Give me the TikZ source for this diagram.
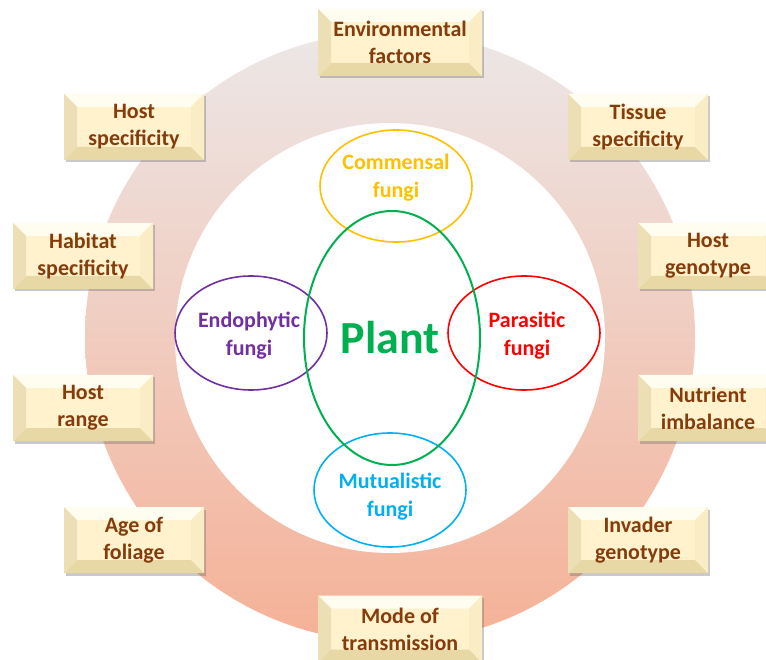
\documentclass[tikz,border=0pt]{standalone}
\usepackage{fontspec}
\setmainfont{Carlito}
\usetikzlibrary{shapes.geometric,shadows,calc}
\definecolor{txtbrown}{HTML}{843C0C}
\definecolor{boxfill}{HTML}{FFF2CC}
\definecolor{bevtop}{HTML}{FFFCF0}
\definecolor{bevleft}{HTML}{ECDFB6}
\definecolor{bevbottom}{HTML}{E8D8A6}
\definecolor{bevright}{HTML}{FAEDC6}
\definecolor{ringtop}{HTML}{ECE7E7}
\definecolor{ringbottom}{HTML}{F5B197}
\definecolor{commensal}{HTML}{FFC000}
\definecolor{plantgreen}{HTML}{00B050}
\definecolor{endophytic}{HTML}{7030A0}
\definecolor{parasitic}{HTML}{FF0000}
\definecolor{mutualistic}{HTML}{00B0F0}
\begin{document}
\begin{tikzpicture}[x=1pt,y=-1pt,
  factor/.style={rectangle, inner sep=0pt, minimum width=140pt, minimum height=66pt,
    fill=boxfill, text=txtbrown, font=\fontsize{22}{27}\selectfont\bfseries, align=center,
    drop shadow={shadow xshift=1.5pt, shadow yshift=-2.5pt, opacity=0.35, fill=black!60},
    path picture={
      \fill[bevtop] (path picture bounding box.north west) -- (path picture bounding box.north east)
        -- ([shift={(-13pt,-13pt)}]path picture bounding box.north east)
        -- ([shift={(13pt,-13pt)}]path picture bounding box.north west) -- cycle;
      \fill[bevbottom] (path picture bounding box.south west) -- (path picture bounding box.south east)
        -- ([shift={(-13pt,13pt)}]path picture bounding box.south east)
        -- ([shift={(13pt,13pt)}]path picture bounding box.south west) -- cycle;
      \fill[bevleft] (path picture bounding box.north west)
        -- ([shift={(13pt,-13pt)}]path picture bounding box.north west)
        -- ([shift={(13pt,13pt)}]path picture bounding box.south west)
        -- (path picture bounding box.south west) -- cycle;
      \fill[bevright] (path picture bounding box.north east)
        -- ([shift={(-13pt,-13pt)}]path picture bounding box.north east)
        -- ([shift={(-13pt,13pt)}]path picture bounding box.south east)
        -- (path picture bounding box.south east) -- cycle;
    }},
  widefactor/.style={factor, minimum width=164pt, minimum height=67pt},
  fungus/.style={line width=1.6pt},
  fungtext/.style={font=\fontsize{22}{28}\selectfont\bfseries, align=center, inner sep=0pt}
]
\useasboundingbox (0,0) rectangle (766,660);
\fill[white] (0,0) rectangle (766,660);
% ring
\shade[top color=ringtop, bottom color=ringbottom] (390,337) circle [radius=305];
\fill[white] (390,338) circle [radius=215];
% ellipses
\draw[fungus, commensal] (396,186) ellipse [x radius=76, y radius=56];
\draw[fungus, endophytic] (251,333) ellipse [x radius=76, y radius=57];
\draw[fungus, parasitic] (524,333) ellipse [x radius=76, y radius=57];
\draw[fungus, mutualistic] (390,490) ellipse [x radius=76, y radius=57];
\draw[line width=2pt, plantgreen] (392,338) ellipse [x radius=88, y radius=127];
% texts
\node[fungtext, text=commensal] (comm) at (396,178) {Commensal\\fungi};
\node[fungtext, text=endophytic] (endo) at (249,336) {Endophytic\\fungi};
\node[fungtext, text=parasitic] (para) at (527,336) {Parasitic\\fungi};
\node[fungtext, text=mutualistic] (mutu) at (390,497) {Mutualistic\\fungi};
\node[font=\fontsize{46}{50}\selectfont\bfseries, text=plantgreen, inner sep=0pt] (plant) at (390,338) {Plant};
% factor boxes
\node[widefactor] (env) at (400,42.5) {Environmental\\factors};
\node[factor] (hostspec) at (134,127) {Host\\specificity};
\node[factor] (tissue) at (638,127) {Tissue\\specificity};
\node[factor] (habitat) at (83,256) {Habitat\\specificity};
\node[factor] (genotype) at (708,256) {Host\\genotype};
\node[factor] (range) at (83,408) {Host\\range};
\node[factor] (nutrient) at (708,408) {Nutrient\\imbalance};
\node[factor] (foliage) at (134,540) {Age of\\foliage};
\node[factor] (invader) at (638,540) {Invader\\genotype};
\node[widefactor] (mode) at (400,629) {Mode of\\transmission};
\end{tikzpicture}
\end{document}
